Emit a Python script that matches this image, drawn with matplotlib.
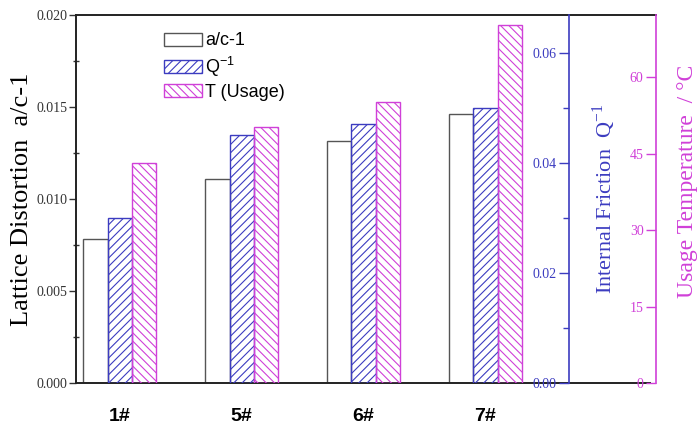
import matplotlib.pyplot as plt
import numpy as np
from matplotlib.ticker import MultipleLocator

samples = ["1#", "5#", "6#", "7#"]
lattice = [0.00783, 0.01109, 0.01313, 0.0146]
friction = [0.0300, 0.0450, 0.0470, 0.0500]
usage_temp = [43.1, 50.2, 55.2, 70.2]

BLUE = "#3c3cc0"
MAGENTA = "#d040d8"
GRAY = "#555555"
SERIF = "Liberation Serif"
SANS = "Liberation Sans"

plt.rcParams["hatch.linewidth"] = 0.8

fig = plt.figure(figsize=(7, 4.32), dpi=100)
ax = fig.add_axes([0.1086, 0.1134, 0.7043, 0.8519])
ax2 = ax.twinx()
ax3 = ax.twinx()

x = np.arange(len(samples))
w = 0.2

ax.bar(x - w, lattice, w, facecolor="white", edgecolor=GRAY, linewidth=1.0,
       label="a/c-1")
ax2.bar(x, friction, w, facecolor="none", edgecolor=BLUE, hatch="////",
        linewidth=1.0, label="Q$^{\\mathregular{-1}}$")
ax3.bar(x + w, usage_temp, w, facecolor="none", edgecolor=MAGENTA,
        hatch="\\\\\\\\", linewidth=1.0, label="T (Usage)")

ax.set_xlim(-0.359, 3.685)
ax.set_ylim(0, 0.020)
ax2.set_ylim(0, 0.0669)
ax3.set_ylim(0, 72.2)

# left axis
ax.yaxis.set_minor_locator(MultipleLocator(0.0025))
ax.set_yticks([0, 0.005, 0.010, 0.015, 0.020])
ax.set_yticklabels(["0.000", "0.005", "0.010", "0.015", "0.020"],
                   fontfamily=SERIF, fontsize=10, color="#333333")
ax.tick_params(axis="y", which="major", direction="out", length=5, width=1,
               color="#333333", pad=1)
ax.tick_params(axis="y", which="minor", direction="inout", length=4, width=1,
               color="#333333")
ax.set_xticks(x)
ax.set_xticklabels(samples, fontfamily=SANS, fontweight="bold", fontsize=14)
ax.tick_params(axis="x", length=0, pad=18)
for s in ["left", "bottom", "top"]:
    ax.spines[s].set_color("#222222")
    ax.spines[s].set_linewidth(1.4)
ax.spines["right"].set_visible(False)
ax.set_ylabel("Lattice Distortion  a/c-1", fontfamily=SERIF, fontsize=19)
ax.yaxis.set_label_coords(-0.087, 0.5)

# extend top and bottom frame lines over the extra axis area
ax.plot([1, 1.1765], [1, 1], transform=ax.transAxes, color="#222222",
        lw=1.4, clip_on=False)
ax.plot([1, 1.165], [0, 0], transform=ax.transAxes, color="#222222",
        lw=1.4, clip_on=False)

# extra axes: spines inside, labels left of the spine, title on the right
for a, pos, col in [(ax2, 1.0, BLUE), (ax3, 1.1765, MAGENTA)]:
    a.yaxis.tick_left()
    a.yaxis.set_label_position("right")
    a.spines["left"].set_position(("axes", pos))
    a.spines["left"].set_color(col)
    a.spines["left"].set_linewidth(1.2)
    for s in ["right", "top", "bottom"]:
        a.spines[s].set_visible(False)
    a.tick_params(axis="y", which="both", direction="out", color=col,
                  labelcolor=col, width=1, pad=2)
    a.tick_params(axis="y", which="major", length=7)

ax2.yaxis.set_minor_locator(MultipleLocator(0.01))
ax2.tick_params(axis="y", which="minor", length=4)
ax2.set_yticks([0, 0.02, 0.04, 0.06])
ax2.set_yticklabels(["0.00", "0.02", "0.04", "0.06"], fontfamily=SERIF,
                    fontsize=10)
ax2.set_ylabel("Internal Friction  Q$^{\\mathregular{-1}}$", fontfamily=SERIF,
               fontsize=16, color=BLUE)
ax2.yaxis.set_label_coords(1.0426, 0.5)

ax3.set_yticks([0, 15, 30, 45, 60])
ax3.set_yticklabels(["0", "15", "30", "45", "60"], fontfamily=SERIF,
                    fontsize=10)
ax3.set_ylabel("Usage Temperature  / \u00b0C", fontfamily=SERIF, fontsize=17,
               color=MAGENTA)
ax3.yaxis.set_label_coords(1.2183, 0.549)

handles = []
labels = []
for a in (ax, ax2, ax3):
    h, l = a.get_legend_handles_labels()
    handles += h
    labels += l
leg = ax3.legend(handles, labels, loc="upper left",
                 bbox_to_anchor=(0.156, 0.982), frameon=False,
                 prop={"family": SANS, "size": 13}, handlelength=2.1,
                 handleheight=0.72, labelspacing=0.28, handletextpad=0.2,
                 borderaxespad=0.2)

fig.savefig("out.png", dpi=100)
